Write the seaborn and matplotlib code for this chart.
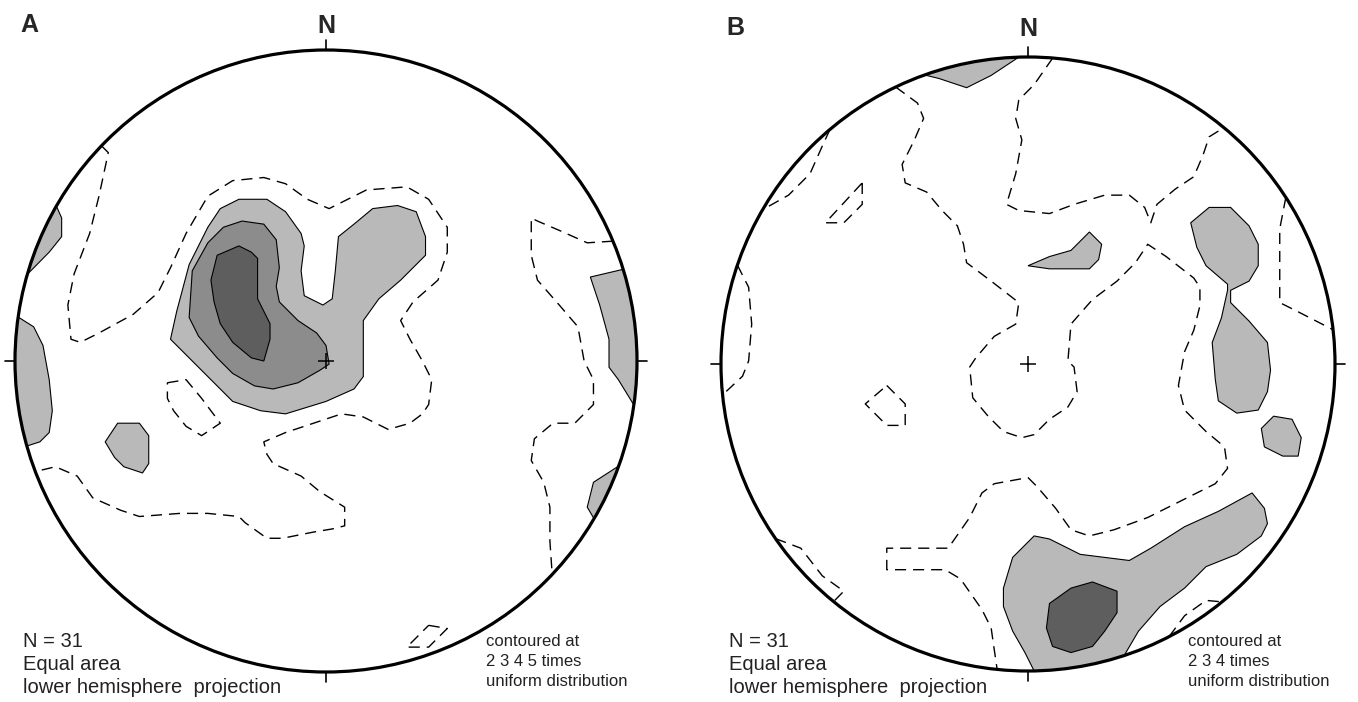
import numpy as np
import matplotlib
matplotlib.use("Agg")
import matplotlib.pyplot as plt
from matplotlib.patches import Circle
import seaborn as sns

# Contours digitised from the equal-area nets, in percent of the primitive radius
# (x = east, y = north). "x2" = dashed contour, x3/x4/x5 = filled contours.

# ---- Panel A ----
A_X2_MAIN = [(-72, 69), (-70, 67), (-73, 53), (-76, 41), (-81, 28), (-83, 18), (-82, 7), (-79, 6),
             (-73, 9), (-62, 15), (-54, 22), (-50, 30), (-45, 41), (-38, 53), (-30, 58), (-20, 59),
             (-13, 57), (-6, 52), (1, 49), (13, 55), (26, 56), (33, 52), (39, 43), (39, 35), (36, 26),
             (28, 19), (24, 13), (27, 7), (31, 0), (34, -6), (33, -14), (31, -17), (27, -20), (20, -22),
             (12, -18), (5, -17), (-4, -20), (-13, -23), (-20, -26), (-19, -30), (-17, -33), (-8, -37),
             (-2, -42), (6, -47), (6, -53), (2, -54), (-4, -55), (-14, -57), (-19, -57), (-26, -52),
             (-28, -50), (-38, -49), (-47, -49), (-60, -50), (-66, -48), (-75, -44), (-80, -37),
             (-87, -34), (-92, -35)]
A_X2_EAST = [(91, 38), (84, 38), (75, 42), (68, 45), (66, 46), (66, 34), (68, 26), (75, 18), (81, 11),
             (83, 0), (86, -6), (86, -14), (80, -20), (73, -20), (67, -25), (66, -32), (70, -39),
             (72, -47), (72, -58), (71, -67)]
A_X2_BOX = [(-51, -7), (-45, -6), (-40, -12), (-34, -20), (-40, -24), (-45, -21), (-49, -16), (-51, -12)]
A_X2_RHOMB = [(33, -85), (39, -86), (33, -92), (26, -92)]

A_X3_MAIN = [(-50, 7), (-48, 16), (-44, 31), (-38, 43), (-34, 49), (-28, 52), (-19, 52), (-13, 48),
             (-8, 41), (-7, 37), (-8, 29), (-7, 21), (-1, 18), (2, 20), (3, 29), (4, 40), (9, 44),
             (15, 49), (23, 50), (29, 48), (32, 40), (32, 34), (24, 26), (17, 20), (12, 13), (12, 6),
             (12, -5), (9, -9), (0, -13), (-13, -17), (-21, -16), (-30, -13), (-38, -5), (-46, 3)]
A_X3_SMALL = [(-71, -26), (-67, -20), (-60, -20), (-57, -24), (-57, -33), (-59, -36), (-65, -34), (-68, -31)]
A_X3_RIM_W = [(-98, 14), (-94, 11), (-91, 5), (-89, -6), (-88, -16), (-89, -23), (-92, -26), (-95, -27)]
A_X3_RIM_NW = [(-87, 50), (-85, 46), (-85, 40), (-89, 35), (-93, 27)]
A_X3_RIM_E = [(94, 29), (85, 27), (88, 18), (91, 7), (91, -2), (94, -6), (98, -14)]
A_X3_RIM_SE = [(92, -33), (86, -39), (84, -47), (85, -50)]
A_X4_MAIN = [(-44, 14), (-43, 29), (-38, 38), (-33, 43), (-27, 45), (-20, 44), (-16, 39), (-15, 30),
             (-16, 24), (-15, 19), (-9, 13), (-3, 9), (0, 5), (1, -1), (-2, -3), (-9, -7), (-17, -9),
             (-23, -8), (-30, -4), (-35, 1), (-41, 8)]
A_X5_MAIN = [(-37, 26), (-35, 34), (-28, 37), (-24, 35), (-22, 33), (-22, 25), (-22, 20), (-18, 12),
             (-18, 7), (-20, 0), (-24, 1), (-30, 6), (-34, 12), (-36, 19)]

# ---- Panel B ----
B_X2_NORTH = [(8, 99), (2, 91), (-3, 86), (-4, 80), (-2, 73), (-4, 62), (-7, 52), (-3, 50), (7, 49),
              (15, 52), (25, 55), (33, 55), (38, 51), (40, 46), (42, 52), (48, 57), (54, 61), (57, 68),
              (59, 74), (63, 76)]
B_X2_MAIN = [(-43, 90), (-36, 85), (-34, 80), (-37, 73), (-41, 65), (-40, 59), (-33, 56), (-28, 50),
             (-23, 45), (-21, 39), (-20, 33), (-12, 27), (-3, 20), (-4, 13), (-11, 9), (-17, 2), (-19, -1),
             (-18, -11), (-13, -17), (-8, -22), (-2, -24), (2, -23), (7, -18), (13, -14), (16, -9),
             (15, -1), (13, 1), (14, 13), (21, 21), (29, 27), (35, 33), (39, 39), (45, 35), (54, 28),
             (56, 25), (56, 19), (54, 11), (51, 4), (49, -7), (51, -15), (58, -22), (64, -27), (65, -34),
             (61, -39), (51, -44), (39, -50), (28, -54), (20, -56), (14, -54), (9, -47), (3, -40),
             (0, -37), (-11, -39), (-15, -42), (-19, -50), (-26, -60), (-46, -60), (-46, -67), (-27, -67),
             (-22, -70), (-15, -80), (-12, -86), (-11, -93), (-10, -99)]
B_X2_NW = [(-65, 77), (-67, 71), (-71, 62), (-78, 55), (-86, 50)]
B_X2_W = [(-94, 32), (-91, 25), (-90, 13), (-91, 1), (-93, -4), (-99, -10)]
B_X2_SW = [(-81, -56), (-74, -60), (-67, -69), (-60, -74), (-63, -77)]
B_X2_NE = [(82, 53), (82, 44), (82, 20), (88, 17), (98, 11)]
B_X2_SE = [(45, -87), (51, -82), (58, -77), (62, -76)]
B_X2_TRI = [(-54, 59), (-54, 52), (-60, 46), (-66, 46)]
B_X2_PENT = [(-46, -7), (-40, -13), (-40, -20), (-46, -20), (-53, -13)]

B_X3_RIM_N = [(-34, 95), (-29, 93), (-20, 90), (-12, 94), (-3, 100)]
B_X3_SMALL_N = [(0, 32), (7, 35), (14, 37), (16, 39), (20, 43), (24, 39), (23, 34), (20, 31), (7, 31)]
B_X3_EAST = [(53, 46), (59, 51), (66, 51), (72, 45), (75, 39), (75, 32), (72, 27), (66, 24), (66, 20),
             (72, 14), (78, 7), (79, -2), (78, -9), (75, -15), (68, -16), (62, -12), (61, -5), (60, 7),
             (63, 15), (65, 24), (65, 26), (58, 32), (55, 38)]
B_X3_SE = [(76, -21), (80, -17), (86, -18), (89, -24), (88, -30), (83, -30), (77, -27)]
B_X3_SOUTH = [(2, -100), (-1, -94), (-5, -87), (-8, -79), (-8, -73), (-5, -63), (2, -56), (7, -57),
              (17, -62), (33, -64), (40, -60), (51, -53), (62, -48), (73, -42), (77, -47), (78, -52),
              (76, -56), (68, -62), (58, -66), (51, -73), (43, -79), (36, -87), (31, -94)]
B_X4_SOUTH = [(7, -78), (14, -73), (21, -71), (29, -74), (29, -81), (25, -87), (21, -92), (14, -94),
              (8, -92), (6, -86)]

PANELS = {
    "A": dict(center=(326, 361), radius=311,
              fills=[(A_X3_MAIN, 3, False), (A_X3_SMALL, 3, False), (A_X3_RIM_W, 3, True),
                     (A_X3_RIM_NW, 3, True), (A_X3_RIM_E, 3, True), (A_X3_RIM_SE, 3, True),
                     (A_X4_MAIN, 4, False), (A_X5_MAIN, 5, False)],
              dashes=[(A_X2_MAIN, False), (A_X2_EAST, False), (A_X2_BOX, True), (A_X2_RHOMB, True)],
              levels="2 3 4 5 times"),
    "B": dict(center=(1028, 364), radius=307,
              fills=[(B_X3_RIM_N, 3, True), (B_X3_SMALL_N, 3, False), (B_X3_EAST, 3, False),
                     (B_X3_SE, 3, False), (B_X3_SOUTH, 3, True), (B_X4_SOUTH, 5, False)],
              dashes=[(B_X2_NORTH, False), (B_X2_MAIN, False), (B_X2_NW, False), (B_X2_W, False),
                      (B_X2_SW, False), (B_X2_NE, False), (B_X2_SE, False), (B_X2_TRI, True),
                      (B_X2_PENT, True)],
              levels="2 3 4 times"),
}

sns.set_style("white")
plt.rcParams["font.family"] = ["Liberation Sans", "DejaVu Sans"]

W, H = 1358, 702
GREYS = {3: "#b9b9b9", 4: "#8c8c8c", 5: "#5e5e5e"}
PAD = 1.05


def unit(pts):
    return np.asarray(pts, float) / 100.0


def snap_ends(p):
    p = p.copy()
    for i in (0, -1):
        r = np.hypot(*p[i])
        if r > 0.9:
            p[i] = p[i] / r
    return p


def close_on_rim(p):
    a0 = np.arctan2(p[-1, 1], p[-1, 0])
    a1 = np.arctan2(p[0, 1], p[0, 0])
    d = (a1 - a0 + np.pi) % (2 * np.pi) - np.pi
    t = a0 + np.linspace(0, 1, 40) * d
    return np.vstack([p, np.c_[np.cos(t), np.sin(t)]])


fig = plt.figure(figsize=(W / 100, H / 100), dpi=100)

for name, spec in PANELS.items():
    cx, cy = spec["center"]
    r = spec["radius"]
    half = r * PAD
    ax = fig.add_axes([(cx - half) / W, (H - cy - half) / H, 2 * half / W, 2 * half / H])
    ax.set_xlim(-PAD, PAD)
    ax.set_ylim(-PAD, PAD)
    ax.axis("off")
    clip = Circle((0, 0), 1, transform=ax.transData)

    for pts, level, rim in spec["fills"]:
        p = unit(pts)
        if rim:
            p = close_on_rim(snap_ends(p))
        patch = ax.fill(p[:, 0], p[:, 1], facecolor=GREYS[level], edgecolor="black",
                        lw=0.8, zorder=level)[0]
        patch.set_clip_path(clip)

    for pts, closed in spec["dashes"]:
        p = unit(pts)
        p = np.vstack([p, p[:1]]) if closed else snap_ends(p)
        sns.lineplot(x=p[:, 0], y=p[:, 1], sort=False, estimator=None, ax=ax, color="black",
                     lw=1.0, linestyle=(0, (8, 5)), zorder=6)

    ax.add_patch(Circle((0, 0), 1, fill=False, lw=2.3, edgecolor="black", zorder=8))
    for dx, dy in [(0, 1), (1, 0), (0, -1), (-1, 0)]:
        ax.plot([dx, dx * 1.032], [dy, dy * 1.032], color="black", lw=1.2, zorder=8)
    sns.scatterplot(x=[0], y=[0], marker="+", s=130, color="black", linewidth=1.1, ax=ax, zorder=9)
    ax.set_xlabel("")
    ax.set_ylabel("")

    # labels
    fig.text((cx - r + 5) / W, 1 - (cy - 329) / H, name, fontsize=18, fontweight="bold", va="baseline")
    fig.text(cx / W, 1 - (cy - 328) / H, "N", fontsize=18, fontweight="bold", ha="center", va="baseline")
    lx = cx - r + 8
    for txt, y in zip(["N = 31", "Equal area", "lower hemisphere  projection"], [647, 670, 693]):
        fig.text(lx / W, 1 - y / H, txt, fontsize=14.5, va="baseline", color="#222222")
    rx = cx + 160
    for txt, y in zip(["contoured at", spec["levels"], "uniform distribution"], [646, 666, 686]):
        fig.text(rx / W, 1 - y / H, txt, fontsize=12, va="baseline", color="#222222")

fig.savefig("out.png", dpi=100)
